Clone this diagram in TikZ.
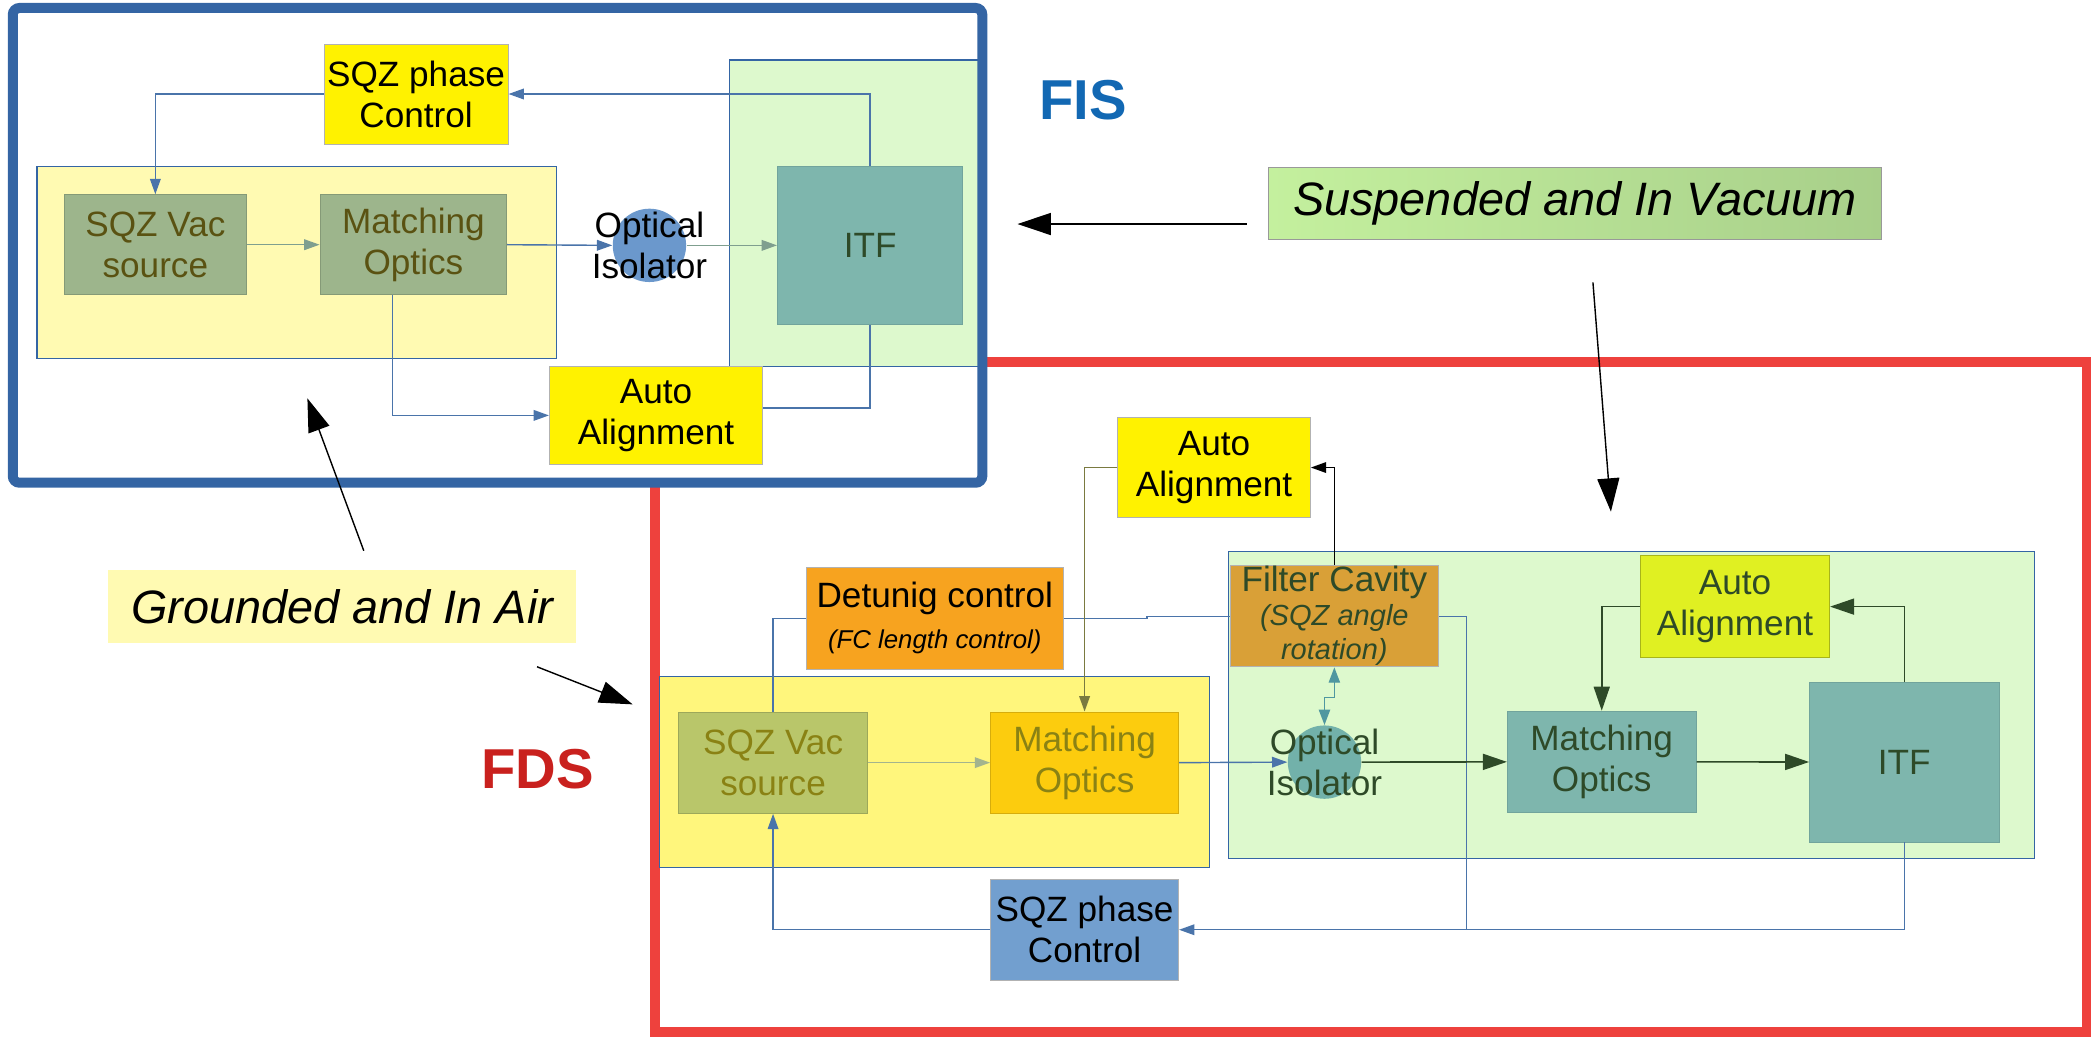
\documentclass[tikz,border=0pt]{standalone}
\usepackage{fontspec}
\setmainfont{Liberation Sans}
\usetikzlibrary{arrows.meta}

\definecolor{fisblue}{HTML}{3465A4}
\definecolor{fdsred}{HTML}{EE413D}
\definecolor{fislabel}{HTML}{1268B3}
\definecolor{fdslabel}{HTML}{C9211E}
\definecolor{boxyellow}{HTML}{FFF200}
\definecolor{airyellow}{HTML}{FFFAB2}
\definecolor{airyellowB}{HTML}{FFF67C}
\definecolor{vacgreen}{HTML}{DDF9CD}
\definecolor{itfteal}{HTML}{7EB6AD}
\definecolor{fisgrey}{HTML}{9DB58C}
\definecolor{olivetext}{HTML}{5A5212}
\definecolor{fdsolive}{HTML}{B9C66A}
\definecolor{fdsgold}{HTML}{FCCC0E}
\definecolor{oliveB}{HTML}{8A8214}
\definecolor{detorange}{HTML}{F7A31F}
\definecolor{fcorange}{HTML}{D9A037}
\definecolor{aalime}{HTML}{E0F022}
\definecolor{darkgreen}{HTML}{2E4A28}
\definecolor{phaseblue}{HTML}{729FCF}
\definecolor{isoblue}{HTML}{6B98CC}
\definecolor{isoteal}{HTML}{72B1AA}
\definecolor{wireblue}{HTML}{4A74AA}
\definecolor{wirepale}{HTML}{A3B48E}
\definecolor{wiregrey}{HTML}{7F9F8F}
\definecolor{wireteal}{HTML}{4F97A0}
\definecolor{wireolive}{HTML}{7A7A40}
\definecolor{vacleft}{HTML}{C4F09E}
\definecolor{vacright}{HTML}{A8CF8A}

\tikzset{
  blk/.style={draw=black!30, line width=0.4pt, align=center, inner sep=0pt,
    font=\fontsize{15}{17.5}\selectfont},
  yellowblk/.style={blk, fill=boxyellow},
  fisblk/.style={blk, fill=fisgrey, draw=fisgrey!85!black, text=olivetext},
  itfblk/.style={blk, fill=itfteal, draw=itfteal!90!black, text=darkgreen},
  iso/.style={circle, minimum size=11mm, inner sep=0pt},
  isotext/.style={align=center, inner sep=0pt, font=\fontsize{15}{17.5}\selectfont},
  region/.style={draw=fisblue, line width=0.5pt},
  wire/.style={wireblue, line width=0.6pt},
  tip/.style={-{Triangle[length=2.3mm,width=1.6mm]}},
  bigtip/.style={darkgreen, line width=0.7pt, -{Triangle[length=3.6mm,width=2.4mm]}},
  note/.style={black, line width=0.6pt, -{Triangle[length=5mm,width=3.3mm]}},
  notebox/.style={inner sep=0pt, font=\fontsize{20}{24}\selectfont\itshape},
}

\begin{document}
\begin{tikzpicture}[x=0.2mm, y=-0.2mm]
\useasboundingbox (0,0) rectangle (1568,778);

% FDS frame, behind FIS
\draw[fdsred, line width=1.5mm] (490.8,271.4) rectangle (1565,774);

% FIS frame and regions
\fill[white, rounded corners=1mm] (9.6,6) rectangle (736.6,362);
\filldraw[region, fill=airyellow] (27.7,125) rectangle (417,269);
\filldraw[region, fill=vacgreen] (547,45) rectangle (735,275);
\draw[fisblue, line width=1.5mm, rounded corners=1mm] (9.6,6) rectangle (736.6,362);

% FIS blocks
\node[yellowblk, minimum width=27.6mm, minimum height=15mm] (fisph) at (312,70.5) {SQZ phase\\Control};
\node[fisblk, minimum width=27.4mm, minimum height=15mm] (fisvac) at (116.5,183.5) {SQZ Vac\\source};
\node[fisblk, minimum width=28mm, minimum height=15mm] (fismo) at (310,183.5) {Matching\\Optics};
\node[iso, fill=isoblue] (fisiso) at (487,184) {};
\node[itfblk, minimum width=27.8mm, minimum height=23.6mm] (fisitf) at (652.5,184) {ITF};
\node[yellowblk, minimum width=32mm, minimum height=14.8mm] (fisaa) at (492,311.5) {Auto\\Alignment};

\draw[wire, tip] (fisph.west) -| (fisvac.north);
\draw[wire, wiregrey, tip] (fisvac.east) -- (fismo.west);
\draw[wire, tip] (fismo.east) -- (fisiso.west);
\draw[wire, wiregrey, tip] (fisiso.east) -- (fisitf.west);
\draw[wire, tip] (fisitf.north) |- (fisph.east);
\draw[wire, tip] ([xshift=-3.1mm]fismo.south) |- (fisaa.west);
\draw[wire] (fisitf.south) |- ([yshift=1.1mm]fisaa.east);
\node[isotext] (fisisolabel) at (fisiso) {Optical\\Isolator};

% FDS regions
\filldraw[region, fill=airyellowB] (494.5,507) rectangle (906.7,650.8);
\filldraw[region, fill=vacgreen] (921.2,413.4) rectangle (1525.8,643.5);

% FDS blocks
\node[yellowblk, minimum width=28.9mm, minimum height=15.1mm] (fdsaa) at (910.4,350.6) {Auto\\Alignment};
\node[blk, fill=detorange, minimum width=38.5mm, minimum height=15.2mm] (fdsdet) at (701,463.7)
  {Detunig control\\{\fontsize{11}{13}\selectfont\itshape (FC length control)}};
\node[blk, fill=fdsolive, draw=fdsolive!85!black, text=oliveB, minimum width=28.3mm, minimum height=15.2mm] (fdsvac) at (579.7,571.9) {SQZ Vac\\source};
\node[blk, fill=fdsgold, draw=fdsgold!85!black, text=oliveB, minimum width=28.2mm, minimum height=15.2mm] (fdsmo) at (813.3,571.9) {Matching\\Optics};
\node[blk, fill=phaseblue, minimum width=28.2mm, minimum height=15.2mm] (fdsph) at (813.3,697.2) {SQZ phase\\Control};
\node[blk, fill=fcorange, text=darkgreen, minimum width=31.3mm, minimum height=15.2mm,
  font=\fontsize{12.4}{14.5}\selectfont] (fdsfc) at (1000.6,462.1)
  {{\fontsize{15}{17.5}\selectfont Filter Cavity}\\\itshape (SQZ angle\\\itshape rotation)};
\node[iso, fill=isoteal] (fdsiso) at (993.2,571.5) {};
\node[itfblk, minimum width=28.3mm, minimum height=15.2mm] (fdsmov) at (1201.1,571.3) {Matching\\Optics};
\node[itfblk, minimum width=28.4mm, minimum height=24mm] (fdsitf) at (1428,571.4) {ITF};
\node[blk, fill=aalime, draw=aalime!75!black, text=darkgreen, minimum width=28.4mm, minimum height=15.2mm] (fdsaav) at (1301,454.9) {Auto\\Alignment};

\coordinate (fcjoin) at (1099.7,697.2);
\draw[wire] (fdsvac.north) |- (fdsdet.west);
\draw[wire] (fdsdet.east) -- ++(62.5,0) |- (fdsfc.west);
\draw[wire, tip] (fdsph.west) -| (fdsvac.south);
\draw[wire, tip] (fdsitf.south) |- (fdsph.east);
\draw[wire] (fdsfc.east) -| (fcjoin);
\draw[black, line width=0.6pt, tip] (fdsfc.north) |- (fdsaa.east);
\draw[wireolive, line width=0.6pt, tip] (fdsaa.west) -| (fdsmo.north);
\draw[wire, wirepale, tip] (fdsvac.east) -- (fdsmo.west);
\draw[wire, tip] (fdsmo.east) -- (fdsiso.west);
\draw[bigtip] (fdsiso.east) -- (fdsmov.west);
\draw[bigtip] (fdsmov.east) -- (fdsitf.west);
\draw[bigtip] (fdsitf.north) |- (fdsaav.east);
\draw[bigtip] (fdsaav.west) -| (fdsmov.north);
\draw[wireteal, line width=0.6pt, {Triangle[length=2.3mm,width=1.7mm]}-{Triangle[length=2.3mm,width=1.7mm]}]
  (fdsfc.south) -- ++(0,22.4) -| (fdsiso.north);
\node[isotext, text=darkgreen] (fdsisolabel) at (fdsiso) {Optical\\Isolator};

% labels
\node[font=\fontsize{24}{28}\selectfont\bfseries, text=fislabel] (fislbl) at (812,75) {FIS};
\node[font=\fontsize{24}{28}\selectfont\bfseries, text=fdslabel] (fdslbl) at (403,577) {FDS};
\node[notebox, draw=black!40, left color=vacleft, right color=vacright,
  minimum width=92mm, minimum height=10.8mm] (susp) at (1181,152.5) {Suspended and In Vacuum};
\node[notebox, fill=airyellow, minimum width=70.1mm, minimum height=10.9mm] (ground) at (256.6,454.8) {Grounded and In Air};

\coordinate (suspleft) at (935,168);
\coordinate (fisright) at (763,168);
\coordinate (suspbelow) at (1194.5,211.7);
\coordinate (fdstop) at (1208,383.7);
\coordinate (groundabove) at (272.8,413);
\coordinate (fisbottom) at (230.5,298.7);
\coordinate (groundright) at (402.7,500);
\coordinate (fdsleft) at (474.4,528.2);
\draw[note] (suspleft) -- (fisright);
\draw[note] (suspbelow) -- (fdstop);
\draw[note] (groundabove) -- (fisbottom);
\draw[note] (groundright) -- (fdsleft);
\end{tikzpicture}
\end{document}
